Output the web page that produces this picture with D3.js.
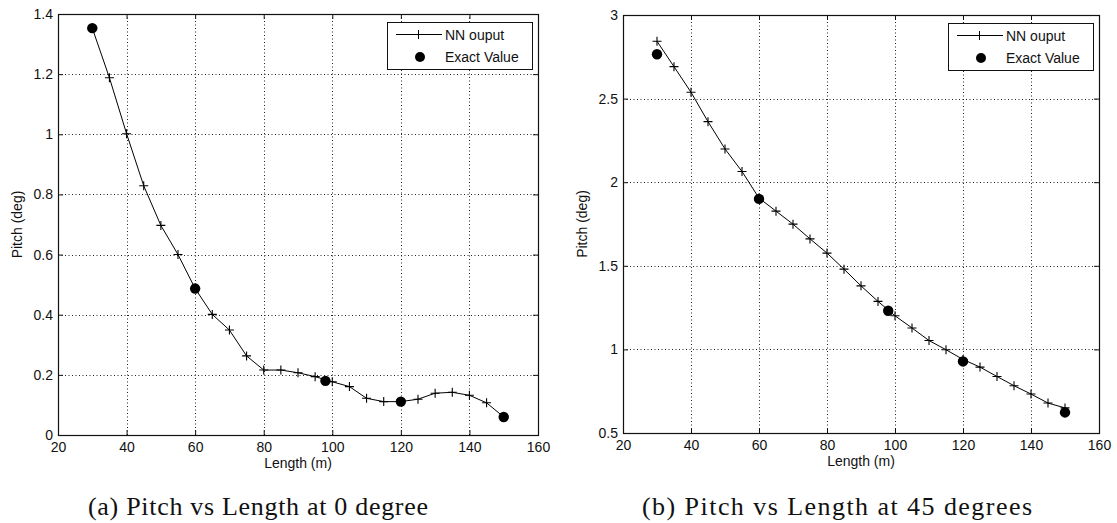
<html>
<head>
<meta charset="utf-8">
<title>Pitch vs Length</title>
<script src="https://d3js.org/d3.v7.min.js"></script>
<style>
  body { margin: 0; background: #fff; }
  svg text { font-family: "Liberation Sans", Arial, sans-serif; fill: #111; }
  .caption { font-family: "Liberation Serif", "Times New Roman", serif !important; }
  .grid line { stroke: #222; stroke-dasharray: 1,2.5; }
</style>
</head>
<body>
<div id="chart"></div>
<script>
// data
const lengths = [30, 35, 40, 45, 50, 55, 60, 65, 70, 75, 80, 85, 90, 95, 100, 105, 110, 115, 120, 125, 130, 135, 140, 145, 150];
const nnPitch0 = [1.353, 1.188, 1.002, 0.829, 0.697, 0.600, 0.487, 0.401, 0.349, 0.263, 0.216, 0.216, 0.207, 0.194, 0.177, 0.161, 0.122, 0.111, 0.111, 0.119, 0.139, 0.142, 0.132, 0.107, 0.060];
const nnPitch45 = [2.843, 2.691, 2.538, 2.362, 2.199, 2.064, 1.905, 1.827, 1.749, 1.661, 1.576, 1.480, 1.380, 1.287, 1.201, 1.128, 1.053, 0.998, 0.940, 0.894, 0.838, 0.783, 0.733, 0.679, 0.650];
const exactLengths = [30, 60, 98, 120, 150];
const exactPitch0 = [1.353, 0.487, 0.180, 0.111, 0.060];
const exactPitch45 = [2.765, 1.900, 1.231, 0.928, 0.623];

const xTicks = [20, 40, 60, 80, 100, 120, 140, 160];
const yTicks0 = [0, 0.2, 0.4, 0.6, 0.8, 1, 1.2, 1.4];
const yTicks45 = [0.5, 1, 1.5, 2, 2.5, 3];
const legendLabels = ["NN ouput", "Exact Value"];

const svg = d3.select('#chart').append('svg')
    .attr('width', 1117)
    .attr('height', 523);

const panels = [
  { x: 58, y: 14, w: 480, h: 421, yDomain: [0, 1.4], yTicks: yTicks0,
    nn: nnPitch0, exact: exactPitch0, caption: "(a) Pitch vs Length at 0 degree", capX: 258, capW: 340 },
  { x: 623, y: 15, w: 476, h: 418, yDomain: [0.5, 3], yTicks: yTicks45,
    nn: nnPitch45, exact: exactPitch45, caption: "(b) Pitch vs Length at 45 degrees", capX: 837, capW: 390 }
];

panels.forEach(drawPanel);

function drawPanel(p) {
  const g = svg.append('g').attr('transform', `translate(${p.x},${p.y})`);

  const x = d3.scaleLinear().domain([20, 160]).range([0, p.w]);
  const y = d3.scaleLinear().domain(p.yDomain).range([p.h, 0]);

  // dotted grid (skip the ends, they sit on the box)
  g.append('g').attr('class', 'grid')
    .selectAll('line').data(xTicks.slice(1, -1)).join('line')
      .attr('x1', d => Math.round(x(d)) + 0.5).attr('x2', d => Math.round(x(d)) + 0.5)
      .attr('y1', 0).attr('y2', p.h);
  g.append('g').attr('class', 'grid')
    .selectAll('line').data(p.yTicks.slice(1, -1)).join('line')
      .attr('y1', d => Math.round(y(d)) + 0.5).attr('y2', d => Math.round(y(d)) + 0.5)
      .attr('x1', 0).attr('x2', p.w);

  // axes with inward ticks
  const fmt = d3.format('~g');
  g.append('g')
      .attr('transform', `translate(0,${p.h})`)
      .call(d3.axisBottom(x).tickValues(xTicks).tickFormat(fmt).tickSize(-5).tickPadding(7))
      .call(a => a.select('.domain').remove());
  g.append('g')
      .call(d3.axisTop(x).tickValues(xTicks).tickFormat('').tickSize(-5))
      .call(a => a.select('.domain').remove());
  g.append('g')
      .call(d3.axisLeft(y).tickValues(p.yTicks).tickFormat(fmt).tickSize(-5).tickPadding(5))
      .call(a => a.select('.domain').remove());
  g.append('g')
      .attr('transform', `translate(${p.w},0)`)
      .call(d3.axisRight(y).tickValues(p.yTicks).tickFormat('').tickSize(-5))
      .call(a => a.select('.domain').remove());
  g.selectAll('.tick text').attr('font-size', 14).attr('font-family', null).style('fill', '#111');
  g.selectAll('.tick line').attr('stroke', '#111');

  g.append('rect')
      .attr('x', 0.5).attr('y', 0.5)
      .attr('width', p.w).attr('height', p.h)
      .attr('fill', 'none').attr('stroke', '#111').attr('stroke-width', 1.2);

  // NN output line with + markers
  const pts = lengths.map((l, i) => [l, p.nn[i]]);
  g.append('path')
      .datum(pts)
      .attr('fill', 'none').attr('stroke', '#000').attr('stroke-width', 1)
      .attr('d', d3.line().x(d => x(d[0])).y(d => y(d[1])));
  g.append('g').selectAll('path').data(pts).join('path')
      .attr('transform', d => `translate(${x(d[0])},${y(d[1])})`)
      .attr('d', 'M-4.5,0H4.5M0,-4.5V4.5')
      .attr('stroke', '#000').attr('stroke-width', 1.1);

  // exact values
  g.append('g').selectAll('circle').data(exactLengths.map((l, i) => [l, p.exact[i]])).join('circle')
      .attr('cx', d => x(d[0])).attr('cy', d => y(d[1]))
      .attr('r', 5.2).attr('fill', '#000');

  // axis labels
  g.append('text')
      .attr('x', p.w / 2).attr('y', p.h + 33)
      .attr('text-anchor', 'middle').attr('font-size', 14)
      .text('Length (m)');
  g.append('text')
      .attr('transform', `translate(${-36},${p.h / 2}) rotate(-90)`)
      .attr('text-anchor', 'middle').attr('font-size', 14)
      .text('Pitch (deg)');

  // legend
  const lg = g.append('g').attr('transform', `translate(${p.w - 151},8)`);
  lg.append('rect')
      .attr('x', 0.5).attr('y', 0.5).attr('width', 145).attr('height', 47)
      .attr('fill', '#fff').attr('stroke', '#111').attr('stroke-width', 1);
  lg.append('line')
      .attr('x1', 9).attr('x2', 55).attr('y1', 12.5).attr('y2', 12.5)
      .attr('stroke', '#000');
  lg.append('path')
      .attr('d', 'M27,12.5H36M31.5,8V17')
      .attr('stroke', '#000');
  lg.append('circle').attr('cx', 33).attr('cy', 35).attr('r', 5).attr('fill', '#000');
  lg.selectAll('text.leg').data(legendLabels).join('text')
      .attr('class', 'leg')
      .attr('x', 58).attr('y', (d, i) => 17.5 + i * 22)
      .attr('font-size', 14)
      .text(d => d);

  // caption
  svg.append('text')
      .attr('class', 'caption')
      .attr('x', p.capX).attr('y', 515)
      .attr('text-anchor', 'middle').attr('font-size', 26)
      .attr('textLength', p.capW).attr('lengthAdjust', 'spacing')
      .text(p.caption);
}
</script>
</body>
</html>
